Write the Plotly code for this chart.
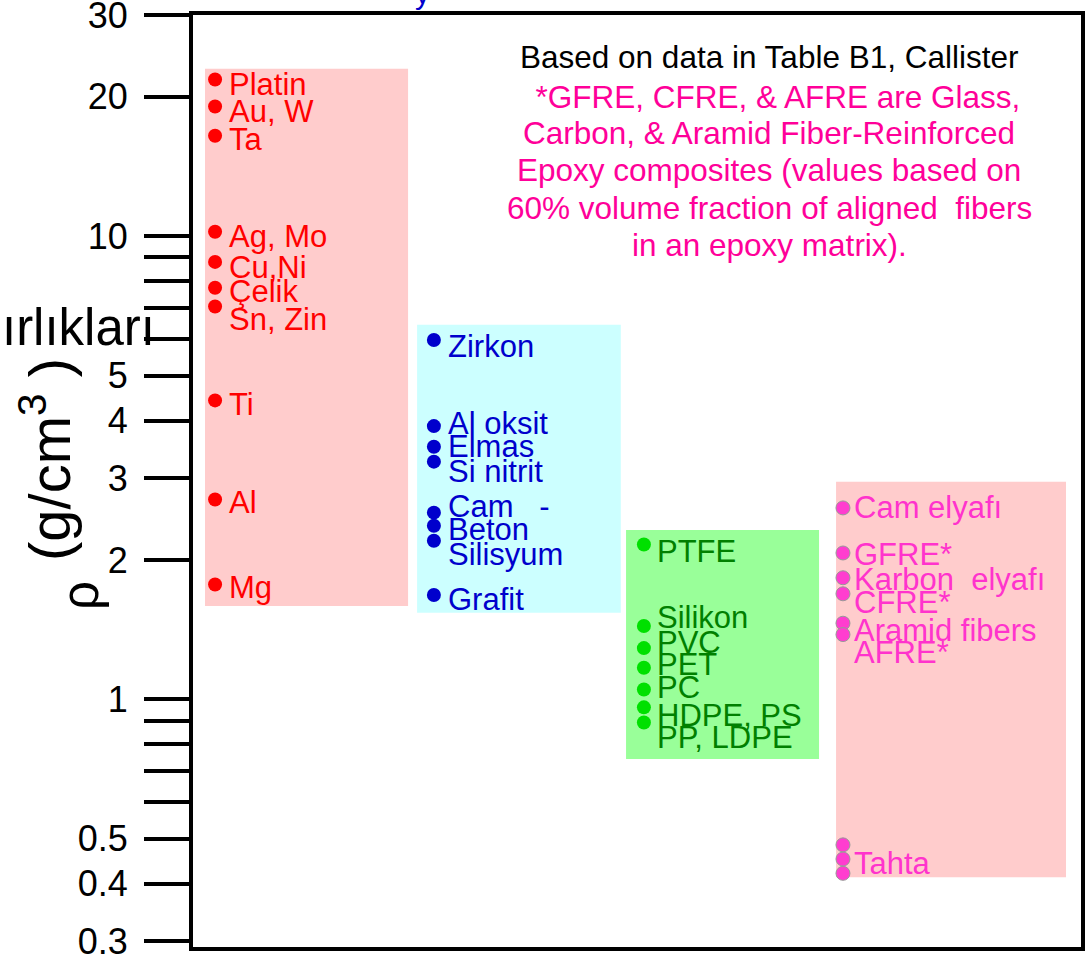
import numpy as np
import plotly.graph_objects as go

# ---------------- data ----------------
metal_names = ["Platin", "Au, W", "Ta", "Ag, Mo", "Cu,Ni", "Çelik", "Sn, Zin", "Ti", "Al", "Mg"]
metal_values = [21.8, 19.06, 16.48, 10.22, 8.80, 7.74, 7.05, 4.42, 2.70, 1.77]

ceramic_names = ["Zirkon", "Al oksit", "Elmas", "Si nitrit", "Cam&nbsp;&nbsp;&nbsp;-", "Beton", "Silisyum", "Grafit"]
ceramic_values = [5.97, 3.89, 3.51, 3.26, 2.53, 2.37, 2.20, 1.68]

polymer_names = ["PTFE", "Silikon", "PVC", "PET", "PC", "HDPE, PS", "PP, LDPE"]
polymer_values = [2.16, 1.44, 1.29, 1.17, 1.05, 0.961, 0.891]

composite_names = ["Cam elyafı", "GFRE*", "Karbon&nbsp; elyafı", "CFRE*", "Aramid fibers", "AFRE*", "Tahta"]
composite_values = [2.59, 2.07, 1.83, 1.69, 1.46, 1.38, 0.452]
wood_values = [0.485, 0.452, 0.421]

# value range covered by each coloured box
box_low = [1.591, 1.537, 0.743, 0.413]
box_high = [22.99, 6.44, 2.32, 2.95]

tick_values = [0.3, 0.4, 0.5, 0.6, 0.7, 0.8, 0.9, 1, 2, 3, 4, 5, 6, 7, 8, 9, 10, 20, 30]
tick_labels = ["0.3", "0.4", "0.5", " ", " ", " ", " ", "1", "2", "3", "4", "5", " ", " ", " ", " ", "10", "20", "30"]

note_lines = [
    "Based on data in Table B1, Callister",
    "&nbsp;&nbsp;*GFRE, CFRE, &amp; AFRE are Glass,",
    "Carbon, &amp; Aramid Fiber-Reinforced",
    "Epoxy composites (values based on",
    "60% volume fraction of aligned&nbsp; fibers",
    "in an epoxy matrix).",
]

# ---------------- layout / style (not data) ----------------
FONT = "Liberation Sans, Arial, sans-serif"
W, H = 1085, 955
ML, MR, MT, MB = 193, 4, 15, 8
PW, PH = W - ML - MR, H - MT - MB


def px_x(p):
    return (p - ML) / PW


def px_y(p):
    return 1 - (p - MT) / PH


box_x0 = [0.0, 1.010, 2.005, 3.005]
box_x1 = [0.967, 1.980, 2.924, 4.100]
dot_x = [0.048, 1.090, 2.090, 3.038]
label_x = [0.105, 1.148, 2.143, 3.082]
box_colors = ["#ffcccc", "#ccffff", "#99ff99", "#ffcccc"]
dot_colors = ["#ff0000", "#0000cc", "#00e000", "#ff3dcf"]
label_colors = ["#ff0000", "#0000cc", "#008000", "#ff33cc"]
label_shift = [
    [5, 5, 4, 5, 6, 4, 13, 4, 3, 3],
    [7, -3, 0, 10, -6, 4, 14, 5],
    [7, -8, -6, -3, -2, 8, 15],
    [0, 2, 2, 9, 7, 18, 4],
]
note_colors = ["#000000"] + ["#ff0099"] * 5
note_y_px = [57, 97, 133, 170, 208, 245]

groups = [
    (metal_names, metal_values, metal_values),
    (ceramic_names, ceramic_values, ceramic_values),
    (polymer_names, polymer_values, polymer_values),
    (composite_names, composite_values, composite_values[:-1] + wood_values),
]

fig = go.Figure()
annotations = []

for g, (names, vals, dots) in enumerate(groups):
    x0, x1 = box_x0[g], box_x1[g]
    lo, hi = box_low[g], box_high[g]
    fig.add_trace(go.Scatter(
        x=[x0, x1, x1, x0, x0], y=[lo, lo, hi, hi, lo],
        mode="lines", fill="toself", fillcolor=box_colors[g],
        line=dict(width=0), hoverinfo="skip", showlegend=False,
    ))

for g, (names, vals, dots) in enumerate(groups):
    fig.add_trace(go.Scatter(
        x=[dot_x[g]] * len(dots), y=dots, mode="markers",
        marker=dict(size=14, color=dot_colors[g],
                    line=dict(width=1 if g == 3 else 0, color="#999999")),
        showlegend=False,
    ))
    for i, (n, v) in enumerate(zip(names, vals)):
        annotations.append(dict(
            x=label_x[g], y=float(np.log10(v)), xref="x", yref="y",
            text=n, showarrow=False, xanchor="left", yanchor="middle",
            yshift=-label_shift[g][i],
            font=dict(family=FONT, size=31, color=label_colors[g]),
        ))

# explanatory note, one annotation per line
for t, c, yp in zip(note_lines, note_colors, note_y_px):
    annotations.append(dict(
        x=px_x(769), y=px_y(yp), xref="paper", yref="paper", text=t,
        showarrow=False, xanchor="center", yanchor="middle",
        font=dict(family=FONT, size=31.5, color=c),
    ))

# axis titles (rotated) and clipped fragments
annotations.append(dict(
    x=px_x(46), y=px_y(460), xref="paper", yref="paper",
    text="(g/cm<sup>3</sup> )", textangle=-90, showarrow=False,
    xanchor="center", yanchor="middle",
    font=dict(family=FONT, size=58, color="#000000"),
))
annotations.append(dict(
    x=px_x(80), y=px_y(596), xref="paper", yref="paper",
    text="ρ", textangle=-90, showarrow=False,
    xanchor="center", yanchor="middle",
    font=dict(family=FONT, size=51, color="#000000"),
))
annotations.append(dict(
    x=px_x(157), y=px_y(327), xref="paper", yref="paper",
    text="Özgül Ağırlıkları", showarrow=False,
    xanchor="right", yanchor="middle",
    font=dict(family=FONT, size=51, color="#000000"),
))
annotations.append(dict(
    x=px_x(422), y=1.0, xref="paper", yref="paper",
    text="y", showarrow=False, xanchor="center", yanchor="bottom", yshift=3,
    font=dict(family=FONT, size=30, color="#0000cc"),
))

fig.update_layout(
    width=W, height=H,
    margin=dict(l=ML, r=MR, t=MT, b=MB, autoexpand=False),
    paper_bgcolor="white", plot_bgcolor="white",
    showlegend=False,
    annotations=annotations,
    xaxis=dict(range=[-0.0571, 4.1714], showline=True, mirror=True,
               linewidth=4, linecolor="black", showticklabels=False,
               ticks="", showgrid=False, zeroline=False, fixedrange=True,
               automargin=False),
    yaxis=dict(type="log",
               range=[float(np.log10(0.3)) - 0.0119, float(np.log10(30)) + 0.0005],
               tickvals=tick_values, ticktext=tick_labels,
               ticks="outside", ticklen=45, tickwidth=4, tickcolor="black",
               ticklabeloverflow="allow", ticklabelstandoff=9,
               automargin=False,
               showline=True, mirror=True, linewidth=4, linecolor="black",
               showgrid=False, zeroline=False,
               tickfont=dict(family=FONT, size=36, color="black")),
)

fig.write_html(
    "out.html",
    config={"displayModeBar": False},
    post_script="document.body.style.margin='0px';document.body.style.overflow='hidden';",
)
